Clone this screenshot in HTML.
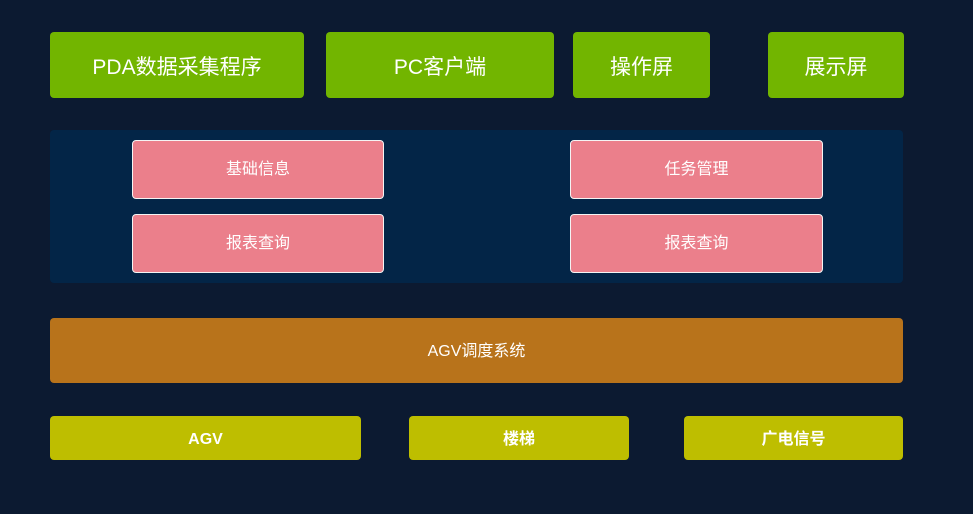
<!DOCTYPE html>
<html><head><meta charset="utf-8"><style>
body{margin:0;width:973px;height:514px;background:#0c1a31;position:relative;overflow:hidden;font-family:"Liberation Sans","Noto Sans CJK SC",sans-serif;color:#fff}
div.b{position:absolute;display:flex;align-items:center;justify-content:center;border-radius:4px;box-sizing:border-box;line-height:1}
.g{background:#72b500;font-size:21px;padding-top:4px}
.p{background:#eb7f8b;border:1px solid #f4f4f4;font-size:16px}
.y{background:#bebe00;font-size:16px;font-weight:bold;padding-top:4px}
</style></head><body>
<div class="b g" style="left:50px;top:32px;width:254px;height:66px">PDA数据采集程序</div>
<div class="b g" style="left:326px;top:32px;width:228px;height:66px">PC客户端</div>
<div class="b g" style="left:573px;top:32px;width:137px;height:66px">操作屏</div>
<div class="b g" style="left:768px;top:32px;width:136px;height:66px">展示屏</div>
<div class="b" style="left:50px;top:130px;width:853px;height:153px;background:#032547"></div>
<div class="b p" style="left:132px;top:140px;width:252px;height:59px">基础信息</div>
<div class="b p" style="left:132px;top:214px;width:252px;height:59px">报表查询</div>
<div class="b p" style="left:570px;top:140px;width:253px;height:59px">任务管理</div>
<div class="b p" style="left:570px;top:214px;width:253px;height:59px">报表查询</div>
<div class="b" style="left:50px;top:318px;width:853px;height:65px;background:#b8731b;font-size:16px;padding-top:2px">AGV调度系统</div>
<div class="b y" style="left:50px;top:416px;width:311px;height:44px">AGV</div>
<div class="b y" style="left:409px;top:416px;width:220px;height:44px">楼梯</div>
<div class="b y" style="left:684px;top:416px;width:219px;height:44px">广电信号</div>
</body></html>
